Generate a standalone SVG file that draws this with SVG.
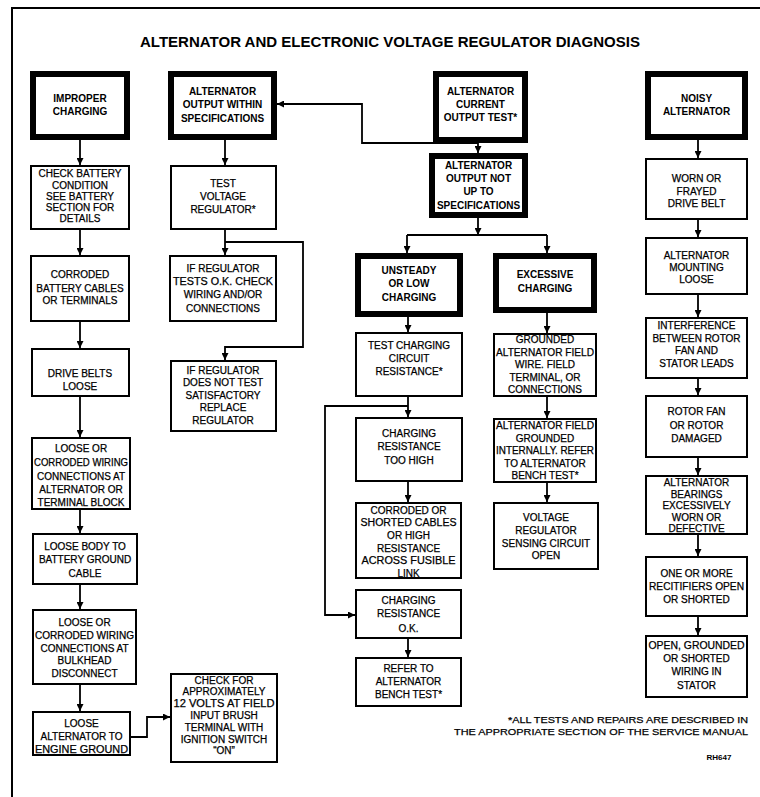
<svg xmlns="http://www.w3.org/2000/svg" width="760" height="797" viewBox="0 0 760 797">
<style>
text{font-family:"Liberation Sans",Arial,sans-serif;fill:#000;text-anchor:middle}
.t{font-size:15px;font-weight:bold}
.h{font-size:10px;font-weight:bold}
.b{font-size:10px;stroke:#000;stroke-width:0.25}
.f{font-size:9.5px;text-anchor:end;stroke:#000;stroke-width:0.25}
.hb{fill:#fff;stroke:#000;stroke-width:6}
.nb{fill:#fff;stroke:#000;stroke-width:2}
.c{fill:none;stroke:#000;stroke-width:1.8}
.fr{fill:none;stroke:#000;stroke-width:2}
</style>
<defs>
<marker id="a" viewBox="0 0 8 8" refX="8" refY="4" markerWidth="7" markerHeight="7" markerUnits="userSpaceOnUse" orient="auto">
<path d="M0,0 L8,4 L0,8 z" fill="#000"/>
</marker>
</defs>
<rect width="760" height="797" fill="#fff"/>
<path class="fr" d="M760,8 H12 V797"/>
<text class="t" x="390" y="47" textLength="500" lengthAdjust="spacingAndGlyphs">ALTERNATOR AND ELECTRONIC VOLTAGE REGULATOR DIAGNOSIS</text>

<g id="connectors">
<path class="c" marker-end="url(#a)" d="M80,140 V165"/>
<path class="c" marker-end="url(#a)" d="M80,230 V255"/>
<path class="c" marker-end="url(#a)" d="M80,322 V348"/>
<path class="c" marker-end="url(#a)" d="M80,397 V437"/>
<path class="c" marker-end="url(#a)" d="M80,510 V533"/>
<path class="c" marker-end="url(#a)" d="M80,585 V609"/>
<path class="c" marker-end="url(#a)" d="M80,685 V711"/>
<path class="c" marker-end="url(#a)" d="M130,737 H147 V717 H170"/>
<path class="c" marker-end="url(#a)" d="M225,140 V165"/>
<path class="c" marker-end="url(#a)" d="M225,230 V255"/>
<path class="c" marker-end="url(#a)" d="M225,242 H303 V347 H225 V360"/>
<path class="c" marker-end="url(#a)" d="M478,140 V153"/>
<path class="c" marker-end="url(#a)" d="M478,143 H362 V104 H277"/>
<path class="c" marker-end="url(#a)" d="M478,218 V235"/>
<path class="c" d="M407,235 H547"/>
<path class="c" marker-end="url(#a)" d="M407,235 V253"/>
<path class="c" marker-end="url(#a)" d="M547,235 V253"/>
<path class="c" marker-end="url(#a)" d="M408,317 V332"/>
<path class="c" marker-end="url(#a)" d="M408,397 V417"/>
<path class="c" marker-end="url(#a)" d="M408,406 H325 V615 H355"/>
<path class="c" marker-end="url(#a)" d="M408,482 V502"/>
<path class="c" marker-end="url(#a)" d="M408,639 V657"/>
<path class="c" marker-end="url(#a)" d="M547,313 V333"/>
<path class="c" marker-end="url(#a)" d="M547,397 V418"/>
<path class="c" marker-end="url(#a)" d="M547,483 V502"/>
<path class="c" marker-end="url(#a)" d="M698,140 V158"/>
<path class="c" marker-end="url(#a)" d="M698,220 V237"/>
<path class="c" marker-end="url(#a)" d="M698,295 V317"/>
<path class="c" marker-end="url(#a)" d="M698,379 V395"/>
<path class="c" marker-end="url(#a)" d="M698,458 V475"/>
<path class="c" marker-end="url(#a)" d="M698,535 V556"/>
<path class="c" marker-end="url(#a)" d="M698,617 V635"/>
</g>

<g id="improper-charging"><rect class="hb" x="33" y="74" width="94" height="63"/>
<text class="h"><tspan x="80" y="102">IMPROPER</tspan><tspan x="80" y="115">CHARGING</tspan></text></g>
<g id="output-within"><rect class="hb" x="171" y="74" width="103" height="63"/>
<text class="h"><tspan x="222.5" y="95">ALTERNATOR</tspan><tspan x="222.5" y="108">OUTPUT WITHIN</tspan><tspan x="222.5" y="121.5">SPECIFICATIONS</tspan></text></g>
<g id="current-output-test"><rect class="hb" x="436" y="74" width="89" height="66"/>
<text class="h"><tspan x="480.5" y="95">ALTERNATOR</tspan><tspan x="480.5" y="108">CURRENT</tspan><tspan x="480.5" y="121">OUTPUT TEST*</tspan></text></g>
<g id="noisy-alternator"><rect class="hb" x="648" y="74" width="97" height="63"/>
<text class="h"><tspan x="696.5" y="102">NOISY</tspan><tspan x="696.5" y="115">ALTERNATOR</tspan></text></g>
<g id="output-not-up"><rect class="hb" x="432" y="156" width="93" height="59"/>
<text class="h"><tspan x="478.5" y="168.5">ALTERNATOR</tspan><tspan x="478.5" y="182">OUTPUT NOT</tspan><tspan x="478.5" y="195">UP TO</tspan><tspan x="478.5" y="208.5">SPECIFICATIONS</tspan></text></g>
<g id="unsteady"><rect class="hb" x="358" y="256" width="102" height="58"/>
<text class="h"><tspan x="409" y="273.5">UNSTEADY</tspan><tspan x="409" y="287">OR LOW</tspan><tspan x="409" y="301">CHARGING</tspan></text></g>
<g id="excessive"><rect class="hb" x="496" y="256" width="98" height="54"/>
<text class="h"><tspan x="545" y="278">EXCESSIVE</tspan><tspan x="545" y="291.5">CHARGING</tspan></text></g>

<g id="check-battery"><rect class="nb" x="31" y="166" width="98" height="63"/>
<text class="b"><tspan x="80" y="177">CHECK BATTERY</tspan><tspan x="80" y="188.5">CONDITION</tspan><tspan x="80" y="199.5">SEE BATTERY</tspan><tspan x="80" y="210.5">SECTION FOR</tspan><tspan x="80" y="222">DETAILS</tspan></text></g>
<g id="corroded-cables"><rect class="nb" x="31" y="256" width="98" height="65"/>
<text class="b"><tspan x="80" y="278">CORRODED</tspan><tspan x="80" y="291.5">BATTERY CABLES</tspan><tspan x="80" y="304">OR TERMINALS</tspan></text></g>
<g id="drive-belts"><rect class="nb" x="32" y="349" width="97" height="47"/>
<text class="b"><tspan x="80" y="377">DRIVE BELTS</tspan><tspan x="80" y="390">LOOSE</tspan></text></g>
<g id="wiring-alternator"><rect class="nb" x="32" y="438" width="98" height="71"/>
<text class="b"><tspan x="81" y="452">LOOSE OR</tspan><tspan x="81" y="466" textLength="94" lengthAdjust="spacingAndGlyphs">CORRODED WIRING</tspan><tspan x="81" y="479.5">CONNECTIONS AT</tspan><tspan x="81" y="493">ALTERNATOR OR</tspan><tspan x="81" y="506">TERMINAL BLOCK</tspan></text></g>
<g id="body-ground"><rect class="nb" x="33" y="534" width="104" height="50"/>
<text class="b"><tspan x="85" y="550">LOOSE BODY TO</tspan><tspan x="85" y="563">BATTERY GROUND</tspan><tspan x="85" y="576.5">CABLE</tspan></text></g>
<g id="wiring-bulkhead"><rect class="nb" x="33" y="610" width="103" height="74"/>
<text class="b"><tspan x="84.5" y="626">LOOSE OR</tspan><tspan x="84.5" y="639" textLength="99" lengthAdjust="spacingAndGlyphs">CORRODED WIRING</tspan><tspan x="84.5" y="651.5">CONNECTIONS AT</tspan><tspan x="84.5" y="664">BULKHEAD</tspan><tspan x="84.5" y="676.5">DISCONNECT</tspan></text></g>
<g id="engine-ground"><rect class="nb" x="33" y="712" width="97" height="43"/>
<text class="b"><tspan x="81.5" y="727">LOOSE</tspan><tspan x="81.5" y="740">ALTERNATOR TO</tspan><tspan x="81.5" y="752.5" textLength="93" lengthAdjust="spacingAndGlyphs">ENGINE GROUND</tspan></text></g>
<g id="check-12-volts"><rect class="nb" x="171" y="674" width="106" height="88"/>
<text class="b"><tspan x="224" y="683.5">CHECK FOR</tspan><tspan x="224" y="695">APPROXIMATELY</tspan><tspan x="224" y="707" textLength="101" lengthAdjust="spacingAndGlyphs">12 VOLTS AT FIELD</tspan><tspan x="224" y="718.5">INPUT BRUSH</tspan><tspan x="224" y="730.5">TERMINAL WITH</tspan><tspan x="224" y="742.5">IGNITION SWITCH</tspan><tspan x="224" y="754">“ON”</tspan></text></g>

<g id="test-voltage-regulator"><rect class="nb" x="171" y="166" width="105" height="63"/>
<text class="b"><tspan x="223" y="187">TEST</tspan><tspan x="223" y="200">VOLTAGE</tspan><tspan x="223" y="213">REGULATOR*</tspan></text></g>
<g id="regulator-ok"><rect class="nb" x="170" y="256" width="106" height="65"/>
<text class="b"><tspan x="223" y="272">IF REGULATOR</tspan><tspan x="223" y="285" textLength="100" lengthAdjust="spacingAndGlyphs">TESTS O.K. CHECK</tspan><tspan x="223" y="298">WIRING AND/OR</tspan><tspan x="223" y="311.5">CONNECTIONS</tspan></text></g>
<g id="regulator-not-ok"><rect class="nb" x="171" y="361" width="105" height="70"/>
<text class="b"><tspan x="223" y="373.5">IF REGULATOR</tspan><tspan x="223" y="386">DOES NOT TEST</tspan><tspan x="223" y="398.5">SATISFACTORY</tspan><tspan x="223" y="411">REPLACE</tspan><tspan x="223" y="423.5">REGULATOR</tspan></text></g>

<g id="test-circuit-resistance"><rect class="nb" x="356" y="333" width="106" height="63"/>
<text class="b"><tspan x="409" y="348.5">TEST CHARGING</tspan><tspan x="409" y="362">CIRCUIT</tspan><tspan x="409" y="375">RESISTANCE*</tspan></text></g>
<g id="resistance-too-high"><rect class="nb" x="356" y="418" width="106" height="63"/>
<text class="b"><tspan x="409" y="437">CHARGING</tspan><tspan x="409" y="450">RESISTANCE</tspan><tspan x="409" y="463.5">TOO HIGH</tspan></text></g>
<g id="corroded-shorted"><rect class="nb" x="356" y="503" width="105" height="75"/>
<text class="b"><tspan x="408.5" y="513.5">CORRODED OR</tspan><tspan x="408.5" y="526" textLength="96" lengthAdjust="spacingAndGlyphs">SHORTED CABLES</tspan><tspan x="408.5" y="538.5">OR HIGH</tspan><tspan x="408.5" y="551.5">RESISTANCE</tspan><tspan x="408.5" y="564" textLength="94" lengthAdjust="spacingAndGlyphs">ACROSS FUSIBLE</tspan><tspan x="408.5" y="576.5">LINK</tspan></text></g>
<g id="resistance-ok"><rect class="nb" x="356" y="590" width="105" height="48"/>
<text class="b"><tspan x="408.5" y="604">CHARGING</tspan><tspan x="408.5" y="617">RESISTANCE</tspan><tspan x="408.5" y="631.5">O.K.</tspan></text></g>
<g id="bench-test"><rect class="nb" x="356" y="658" width="105" height="48"/>
<text class="b"><tspan x="408.5" y="672">REFER TO</tspan><tspan x="408.5" y="685">ALTERNATOR</tspan><tspan x="408.5" y="697.5">BENCH TEST*</tspan></text></g>

<g id="grounded-field-wire"><rect class="nb" x="494" y="334" width="102" height="62"/>
<text class="b"><tspan x="545" y="343">GROUNDED</tspan><tspan x="545" y="355.5" textLength="98" lengthAdjust="spacingAndGlyphs">ALTERNATOR FIELD</tspan><tspan x="545" y="368">WIRE. FIELD</tspan><tspan x="545" y="380.5">TERMINAL, OR</tspan><tspan x="545" y="393">CONNECTIONS</tspan></text></g>
<g id="field-grounded-internally"><rect class="nb" x="494" y="419" width="102" height="63"/>
<text class="b"><tspan x="545" y="429" textLength="98" lengthAdjust="spacingAndGlyphs">ALTERNATOR FIELD</tspan><tspan x="545" y="441.5">GROUNDED</tspan><tspan x="545" y="454" textLength="98" lengthAdjust="spacingAndGlyphs">INTERNALLY. REFER</tspan><tspan x="545" y="466.5">TO ALTERNATOR</tspan><tspan x="545" y="479">BENCH TEST*</tspan></text></g>
<g id="sensing-circuit"><rect class="nb" x="494" y="503" width="104" height="66"/>
<text class="b"><tspan x="546" y="521">VOLTAGE</tspan><tspan x="546" y="534">REGULATOR</tspan><tspan x="546" y="547">SENSING CIRCUIT</tspan><tspan x="546" y="558.5">OPEN</tspan></text></g>

<g id="drive-belt"><rect class="nb" x="646" y="159" width="101" height="60"/>
<text class="b"><tspan x="696.5" y="182">WORN OR</tspan><tspan x="696.5" y="195">FRAYED</tspan><tspan x="696.5" y="207">DRIVE BELT</tspan></text></g>
<g id="mounting-loose"><rect class="nb" x="646" y="238" width="101" height="56"/>
<text class="b"><tspan x="696.5" y="258.5">ALTERNATOR</tspan><tspan x="696.5" y="270.5">MOUNTING</tspan><tspan x="696.5" y="283">LOOSE</tspan></text></g>
<g id="interference"><rect class="nb" x="646" y="318" width="101" height="60"/>
<text class="b"><tspan x="696.5" y="329">INTERFERENCE</tspan><tspan x="696.5" y="341.5">BETWEEN ROTOR</tspan><tspan x="696.5" y="354">FAN AND</tspan><tspan x="696.5" y="366.5">STATOR LEADS</tspan></text></g>
<g id="rotor-fan"><rect class="nb" x="646" y="396" width="101" height="61"/>
<text class="b"><tspan x="696.5" y="415">ROTOR FAN</tspan><tspan x="696.5" y="428.5">OR ROTOR</tspan><tspan x="696.5" y="442">DAMAGED</tspan></text></g>
<g id="bearings"><rect class="nb" x="646" y="476" width="101" height="58"/>
<text class="b"><tspan x="696.5" y="486">ALTERNATOR</tspan><tspan x="696.5" y="497.5">BEARINGS</tspan><tspan x="696.5" y="509">EXCESSIVELY</tspan><tspan x="696.5" y="520.5">WORN OR</tspan><tspan x="696.5" y="532">DEFECTIVE</tspan></text></g>
<g id="rectifiers"><rect class="nb" x="646" y="557" width="101" height="59"/>
<text class="b"><tspan x="696.5" y="577">ONE OR MORE</tspan><tspan x="696.5" y="590" textLength="95" lengthAdjust="spacingAndGlyphs">RECITIFIERS OPEN</tspan><tspan x="696.5" y="603">OR SHORTED</tspan></text></g>
<g id="stator-wiring"><rect class="nb" x="646" y="636" width="101" height="61"/>
<text class="b"><tspan x="696.5" y="648.5" textLength="96" lengthAdjust="spacingAndGlyphs">OPEN, GROUNDED</tspan><tspan x="696.5" y="662">OR SHORTED</tspan><tspan x="696.5" y="675">WIRING IN</tspan><tspan x="696.5" y="688.5">STATOR</tspan></text></g>

<text class="f" x="748" y="723" textLength="240" lengthAdjust="spacingAndGlyphs">*ALL TESTS AND REPAIRS ARE DESCRIBED IN</text>
<text class="f" x="748" y="735" textLength="294" lengthAdjust="spacingAndGlyphs">THE APPROPRIATE SECTION OF THE SERVICE MANUAL</text>
<text x="719" y="760" style="font-size:8px;font-weight:bold">RH647</text>
</svg>
